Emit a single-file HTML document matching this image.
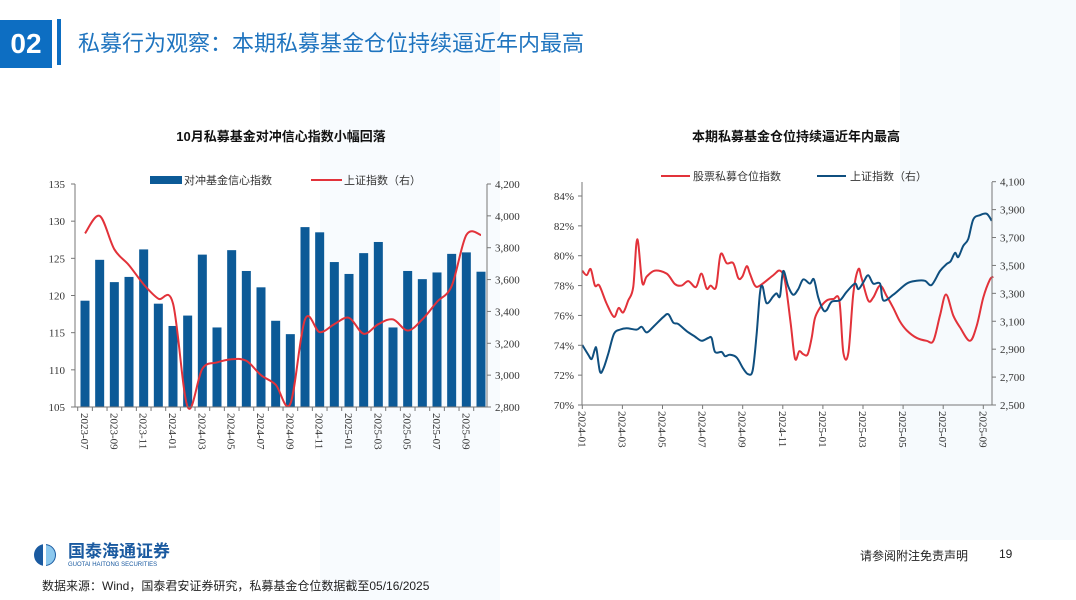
<!DOCTYPE html>
<html><head><meta charset="utf-8">
<style>
body{margin:0;width:1076px;height:600px;overflow:hidden;background:#fff;font-family:"Liberation Sans","Noto Sans CJK SC",sans-serif;position:relative}
.abs{position:absolute}
</style></head><body>
<div class="abs" style="left:320px;top:0;width:180px;height:600px;background:#f8fbfe"></div>
<div class="abs" style="left:900px;top:0;width:176px;height:540px;background:#f6fafd"></div>
<div class="abs" style="left:0;top:20px;width:52px;height:48px;background:#0d6ec2;color:#fff;font-weight:bold;font-size:28px;line-height:48px;text-align:center">02</div>
<div class="abs" style="left:57px;top:19px;width:4px;height:46px;background:#0d6ec2"></div>
<div class="abs" style="left:78px;top:26px;font-size:22px;color:#1f74bf;line-height:36px">私募行为观察：本期私募基金仓位持续逼近年内最高</div>
<svg class="abs" style="left:0;top:0" width="1076" height="600" id="svg" font-family="Liberation Serif, Noto Serif CJK SC, serif"></svg>
<div class="abs" style="left:28px;top:543px">
<svg width="34" height="24"><circle cx="17" cy="12" r="11" fill="#1a5aa0"/><path d="M17 2 A10 10 0 0 1 17 22 Z" fill="#8cc8ee"/><rect x="15" y="1" width="3" height="22" fill="#fff"/></svg>
</div>
<div class="abs" style="left:68px;top:543px;color:#1a5aa0;font-size:17px;font-weight:bold;line-height:18px">国泰海通证券</div>
<div class="abs" style="left:68px;top:561px;color:#1a5aa0;font-size:6px;line-height:8px">GUOTAI HAITONG SECURITIES</div>
<div class="abs" style="left:42px;top:577px;font-size:12px;color:#222">数据来源：Wind，国泰君安证券研究，私募基金仓位数据截至05/16/2025</div>
<div class="abs" style="left:860px;top:547px;font-size:12px;color:#222">请参阅附注免责声明</div>
<div class="abs" style="left:999px;top:547px;font-size:12px;color:#222">19</div>
<script>
const barCats=["2023-07","2023-08","2023-09","2023-10","2023-11","2023-12","2024-01","2024-02","2024-03","2024-04","2024-05","2024-06","2024-07","2024-08","2024-09","2024-10","2024-11","2024-12","2025-01","2025-02","2025-03","2025-04","2025-05","2025-06","2025-07","2025-08","2025-09","2025-10"];
const hedgeIdx=[119.3,124.8,121.8,122.5,126.2,118.9,115.9,117.3,125.5,115.7,126.1,123.3,121.1,116.6,114.8,129.2,128.5,124.5,122.9,125.7,127.2,115.7,123.3,122.2,123.1,125.6,125.8,123.2];
const shLeft=[3890,4000,3790,3690,3570,3480,3450,2790,3040,3080,3100,3090,3000,2940,2820,3350,3270,3320,3360,3260,3320,3350,3280,3350,3460,3560,3880,3880];
const leftTicks=[105,110,115,120,125,130,135];
const leftRTicks=["2,800","3,000","3,200","3,400","3,600","3,800","4,000","4,200"];
const rMonths=["2024-01","2024-03","2024-05","2024-07","2024-09","2024-11","2025-01","2025-03","2025-05","2025-07","2025-09"];
const posT=[0,.22,.42,.63,.85,1.21,1.58,1.81,2.04,2.29,2.54,2.74,2.99,3.21,3.62,4.21,4.62,4.95,5.29,5.67,5.94,6.2,6.4,6.67,6.9,7.2,7.53,7.78,7.98,8.2,8.36,8.61,8.86,9.53,9.86,10.11,10.39,10.61,10.82,11.02,11.24,11.44,11.6,11.85,12.19,12.52,12.82,13.02,13.27,13.52,13.77,13.93,14.26,14.51,14.85,15.18,15.51,15.84,16.18,16.67,17.17,17.51,17.84,18.14,18.5,18.84,19.33,19.67,20,20.33,20.5];
const posV=[79.0,78.7,79.1,78.0,78.0,76.8,75.9,76.5,76.2,77.0,77.9,81.1,78.2,78.6,79.0,78.8,78.1,78.0,78.3,77.9,78.8,77.8,78.0,77.9,80.1,79.5,79.5,78.5,78.6,79.3,78.8,78.0,78.0,78.7,79.0,78.3,75.5,73.1,73.6,73.4,73.4,74.5,75.8,76.5,77.0,77.1,77.0,73.5,73.5,77.5,79.1,78.5,77.0,77.2,78.0,77.3,76.5,75.6,75.0,74.5,74.3,74.3,76.0,77.4,76.0,75.2,74.3,75.3,77.2,78.4,78.6];
const shT=[0,.3,.47,.63,.71,.88,1.05,1.3,1.58,1.88,2.21,2.71,2.96,3.21,3.54,4.04,4.29,4.54,4.79,5.2,5.62,5.95,6.28,6.45,6.62,6.95,7.12,7.36,7.7,8.03,8.28,8.5,8.69,8.86,8.99,9.19,9.53,9.69,9.86,10.02,10.27,10.52,10.77,11.02,11.35,11.55,11.77,12.02,12.19,12.44,12.85,13.18,13.6,13.77,14.02,14.26,14.51,14.85,15.01,15.51,16.18,16.67,17.09,17.42,17.84,18.17,18.37,18.59,18.75,19,19.25,19.5,19.83,20.17,20.42];
const shV=[2930,2860,2830,2900,2900,2740,2760,2870,3010,3040,3050,3040,3060,3020,3060,3130,3150,3090,3080,3030,2990,2960,2980,2980,2880,2880,2850,2860,2840,2760,2720,2750,3000,3300,3350,3230,3280,3300,3280,3460,3350,3290,3330,3400,3370,3400,3270,3180,3180,3240,3250,3310,3370,3330,3380,3430,3370,3370,3250,3290,3370,3390,3390,3360,3460,3510,3530,3590,3560,3640,3690,3830,3860,3870,3820];
const rLeftTicks=[70,72,74,76,78,80,82,84];
const rRightTicks=["2,500","2,700","2,900","3,100","3,300","3,500","3,700","3,900","4,100"];

const svg=document.getElementById('svg');const NS='http://www.w3.org/2000/svg';
function mk(tag,at,txt){const e=document.createElementNS(NS,tag);for(const k in at)e.setAttribute(k,at[k]);if(txt!==undefined)e.textContent=txt;svg.appendChild(e);return e;}
function smooth(pts){let d='M'+pts[0][0]+','+pts[0][1];for(let i=0;i<pts.length-1;i++){const p0=pts[i-1]||pts[i],p1=pts[i],p2=pts[i+1],p3=pts[i+2]||p2;d+=' C'+(p1[0]+(p2[0]-p0[0])/6)+','+(p1[1]+(p2[1]-p0[1])/6)+' '+(p2[0]-(p3[0]-p1[0])/6)+','+(p2[1]-(p3[1]-p1[1])/6)+' '+p2[0]+','+p2[1];}return d;}

// LEFT CHART
const L={x0:75,x1:487,yt:184,yb:407};
const bx=i=>85+i*(396/27);
const ly=v=>L.yb-(v-105)/30*(L.yb-L.yt);
const lry=v=>L.yb-(v-2800)/1400*(L.yb-L.yt);
let t=mk('text',{x:281,y:141,'text-anchor':'middle','font-size':13,'font-weight':'bold','font-family':'Liberation Sans, Noto Sans CJK SC, sans-serif',fill:'#111'},'10月私募基金对冲信心指数小幅回落');

hedgeIdx.forEach((v,i)=>{const r=mk('rect',{x:bx(i)-4.5,y:ly(v),width:9,height:L.yb-ly(v),fill:'#0c5a97'});
});
let ln=mk('path',{d:smooth(shLeft.map((v,i)=>[bx(i),lry(Math.max(v,2800))])),fill:'none',stroke:'#e2323a','stroke-width':2});

mk('line',{x1:L.x0,y1:L.yt,x2:L.x0,y2:L.yb,stroke:'#777'});
mk('line',{x1:L.x1,y1:L.yt,x2:L.x1,y2:L.yb,stroke:'#777'});
mk('line',{x1:L.x0,y1:L.yb,x2:L.x1,y2:L.yb,stroke:'#777'});
leftTicks.forEach(v=>{mk('line',{x1:L.x0-4,x2:L.x0,y1:ly(v),y2:ly(v),stroke:'#777'});const e=mk('text',{x:L.x0-10,y:ly(v)+4,'text-anchor':'end','font-size':11,fill:'#333'},v);});
leftRTicks.forEach((s,i)=>{const y=lry(2800+i*200);mk('line',{x1:L.x1,x2:L.x1+4,y1:y,y2:y,stroke:'#777'});const e=mk('text',{x:L.x1+8,y:y+4,'font-size':11,fill:'#333'},s);});
barCats.forEach((c,i)=>{mk('line',{x1:bx(i)-7.3,x2:bx(i)-7.3,y1:L.yb,y2:L.yb+4,stroke:'#777'});if(i%2==0){const e=mk('text',{transform:`translate(${bx(i)-4},${L.yb+6}) rotate(90)`,'font-size':11,fill:'#333'},c);}});
mk('rect',{x:150,y:176,width:32,height:8,fill:'#0c5a97'});
t=mk('text',{x:184,y:184,'font-size':11,fill:'#333','font-family':'Liberation Sans, Noto Sans CJK SC, sans-serif'},'对冲基金信心指数');
mk('line',{x1:311,x2:342,y1:180,y2:180,stroke:'#e2323a','stroke-width':2});
t=mk('text',{x:344,y:184,'font-size':11,fill:'#333','font-family':'Liberation Sans, Noto Sans CJK SC, sans-serif'},'上证指数（右）');

// RIGHT CHART
const R={x0:582,x1:992,yt:182,yb:405};
const rx=m=>582.3+m*20.05;
const ry=v=>R.yb-(v-70)/14*(405-196);
const rry=v=>R.yb-(v-2500)/1600*(405-181.7);
t=mk('text',{x:796,y:141,'text-anchor':'middle','font-size':13,'font-weight':'bold','font-family':'Liberation Sans, Noto Sans CJK SC, sans-serif',fill:'#111'},'本期私募基金仓位持续逼近年内最高');

ln=mk('path',{d:smooth(posT.map((m,i)=>[rx(m),ry(posV[i])])),fill:'none',stroke:'#e2323a','stroke-width':2});

ln=mk('path',{d:smooth(shT.map((m,i)=>[rx(m),rry(shV[i])])),fill:'none',stroke:'#0f4f7f','stroke-width':2});

mk('line',{x1:R.x0,y1:R.yt,x2:R.x0,y2:R.yb,stroke:'#777'});
mk('line',{x1:R.x1,y1:R.yt,x2:R.x1,y2:R.yb,stroke:'#777'});
mk('line',{x1:R.x0,y1:R.yb,x2:R.x1,y2:R.yb,stroke:'#777'});
rLeftTicks.forEach(v=>{mk('line',{x1:R.x0-4,x2:R.x0,y1:ry(v),y2:ry(v),stroke:'#777'});const e=mk('text',{x:R.x0-8,y:ry(v)+4,'text-anchor':'end','font-size':11,fill:'#333'},v+'%');});
rRightTicks.forEach((s,i)=>{const y=rry(2500+i*200);mk('line',{x1:R.x1,x2:R.x1+4,y1:y,y2:y,stroke:'#777'});const e=mk('text',{x:R.x1+8,y:y+4,'font-size':11,fill:'#333'},s);});
rMonths.forEach((c,i)=>{const x=rx(i*2);mk('line',{x1:x,x2:x,y1:R.yb,y2:R.yb+4,stroke:'#777'});const e=mk('text',{transform:`translate(${x-4},${R.yb+6}) rotate(90)`,'font-size':11,fill:'#333'},c);});
mk('line',{x1:661,x2:690,y1:176,y2:176,stroke:'#e2323a','stroke-width':2});
t=mk('text',{x:693,y:180,'font-size':11,fill:'#333','font-family':'Liberation Sans, Noto Sans CJK SC, sans-serif'},'股票私募仓位指数');
mk('line',{x1:817,x2:846,y1:176,y2:176,stroke:'#0f4f7f','stroke-width':2});
t=mk('text',{x:850,y:180,'font-size':11,fill:'#333','font-family':'Liberation Sans, Noto Sans CJK SC, sans-serif'},'上证指数（右）');
</script>
</body></html>
